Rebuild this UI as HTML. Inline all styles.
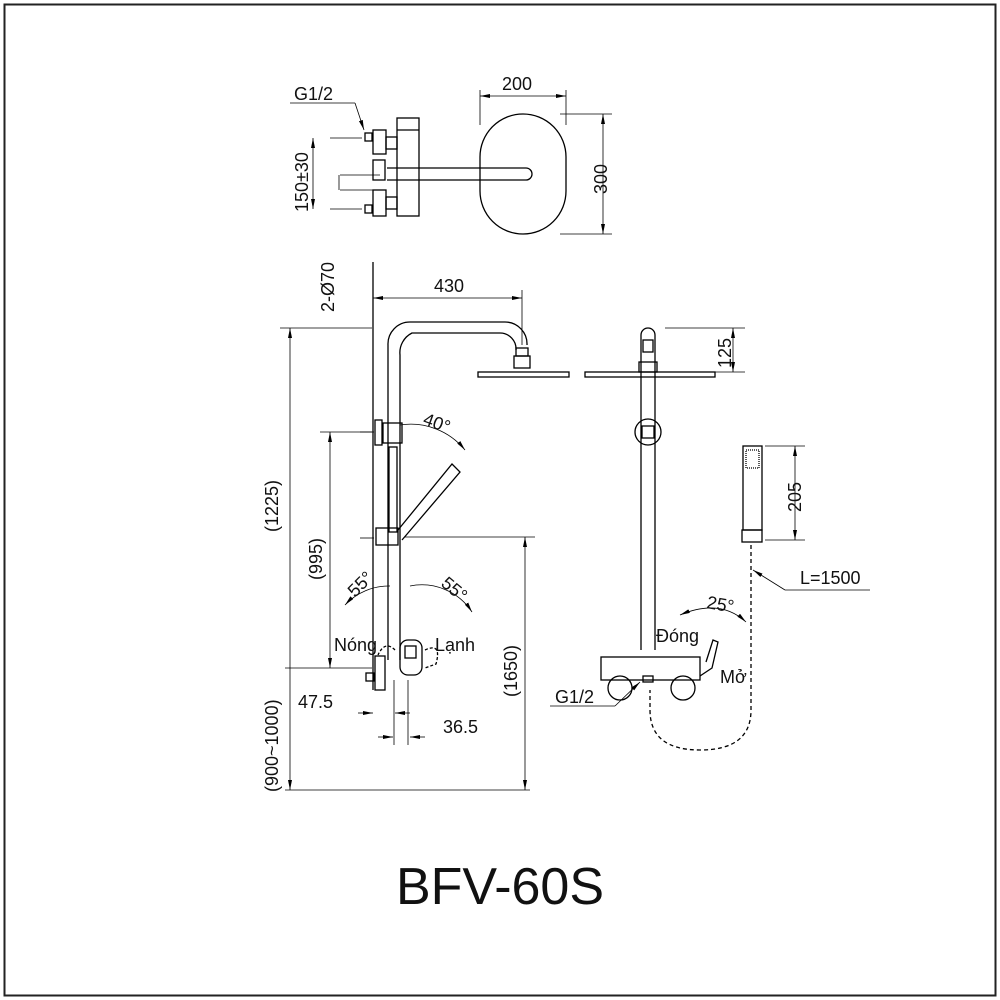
<!DOCTYPE html>
<html><head><meta charset="utf-8"><style>
body{margin:0;background:#fff}
svg{display:block}
text{font-family:"Liberation Sans",sans-serif;fill:#111}
</style></head><body>
<svg width="1000" height="1000" viewBox="0 0 1000 1000" xmlns="http://www.w3.org/2000/svg">
<defs><marker id="a" viewBox="0 0 10 4" refX="10" refY="2" markerWidth="10" markerHeight="4" orient="auto-start-reverse" markerUnits="userSpaceOnUse"><path d="M0,0L10,2L0,4z" fill="#000"/></marker></defs>
<rect x="4.5" y="4.5" width="991" height="991" fill="none" stroke="#222" stroke-width="2"/>
<g fill="none" stroke="#000" stroke-width="1.3">
<rect x="397" y="118" width="22" height="98"/><line x1="397" y1="130" x2="419" y2="130"/>
<rect x="365" y="133" width="7" height="8"/><rect x="373" y="130" width="13" height="24"/><rect x="386" y="137" width="11" height="12"/>
<rect x="373" y="160" width="12" height="20"/><path d="M387,168 H526 A6,6 0 0 1 526,180 H387"/>
<rect x="365" y="205" width="7" height="8"/><rect x="373" y="190" width="13" height="26"/><rect x="386" y="197" width="11" height="12"/>
<rect x="480" y="114" width="86" height="120" rx="43"/>
<g stroke-width="0.8"><line x1="480" y1="90" x2="480" y2="125"/><line x1="566" y1="90" x2="566" y2="125"/><line x1="480" y1="96" x2="566" y2="96" marker-start="url(#a)" marker-end="url(#a)"/>
<line x1="560" y1="114" x2="612" y2="114"/><line x1="560" y1="234" x2="612" y2="234"/><line x1="603" y1="114" x2="603" y2="234" marker-start="url(#a)" marker-end="url(#a)"/>
<line x1="290" y1="103" x2="355" y2="103"/><line x1="355" y1="103" x2="364" y2="130" marker-end="url(#a)"/>
<line x1="330" y1="138" x2="362" y2="138"/><line x1="330" y1="209" x2="362" y2="209"/><line x1="313" y1="138" x2="313" y2="209" marker-start="url(#a)" marker-end="url(#a)"/>
<line x1="340" y1="175" x2="380" y2="175"/><line x1="340" y1="190" x2="380" y2="190"/>
<line x1="339" y1="175" x2="339" y2="190"/>
</g>
<line x1="373" y1="262" x2="373" y2="690"/>
<path d="M388,660 V345 A22,22 0 0 1 410,322 H505 A22,22 0 0 1 527,345"/>
<path d="M400,660 V355 A22,22 0 0 1 412,333 H500 A16,16 0 0 1 516,350"/>
<rect x="516" y="348" width="12" height="8"/><rect x="514" y="356" width="16" height="12"/><rect x="478" y="372" width="91" height="5"/>
<rect x="375" y="420" width="7" height="25"/><rect x="383" y="423" width="19" height="20"/>
<rect x="389" y="447" width="8" height="85"/>
<path d="M398,530 L452,464 L460,472 L402,540"/>
<rect x="376" y="528" width="22" height="17"/>
<rect x="375" y="656" width="10" height="34"/><rect x="366" y="673" width="8" height="8"/>
<rect x="400" y="640" width="22" height="35" rx="8"/><rect x="405" y="646" width="11" height="12"/>
<path d="M395,650 Q385,640 378,655" stroke-dasharray="3,2"/><path d="M425,650 Q442,642 436,664 L425,668" stroke-dasharray="3,2"/>
<g stroke-width="0.8">
<line x1="373" y1="298" x2="522" y2="298" marker-start="url(#a)" marker-end="url(#a)"/><line x1="522" y1="290" x2="522" y2="345"/>
<line x1="280" y1="328" x2="372" y2="328"/><line x1="290" y1="328" x2="290" y2="790" marker-start="url(#a)" marker-end="url(#a)"/>
<line x1="320" y1="432" x2="372" y2="432"/><line x1="330" y1="432" x2="330" y2="668" marker-start="url(#a)" marker-end="url(#a)"/>
<line x1="285" y1="668" x2="372" y2="668"/><line x1="285" y1="790" x2="530" y2="790"/>
<line x1="405" y1="537" x2="535" y2="537"/><line x1="525" y1="537" x2="525" y2="790" marker-start="url(#a)" marker-end="url(#a)"/>
<line x1="360" y1="432" x2="374" y2="432"/><line x1="360" y1="538" x2="374" y2="538"/>
<line x1="358" y1="713" x2="373" y2="713" marker-end="url(#a)"/><line x1="410" y1="713" x2="395" y2="713" marker-end="url(#a)"/>
<line x1="378" y1="737" x2="393" y2="737" marker-end="url(#a)"/><line x1="425" y1="737" x2="410" y2="737" marker-end="url(#a)"/>
<line x1="394" y1="680" x2="394" y2="745"/><line x1="408" y1="680" x2="408" y2="745"/>
<path d="M400,425 A70,70 0 0 1 465,450" marker-end="url(#a)"/>
<path d="M345,605 A60,60 0 0 1 390,586" marker-start="url(#a)"/>
<path d="M410,586 A60,60 0 0 1 472,612" marker-end="url(#a)"/>
</g>
<path d="M641,650 V335 A7,7 0 0 1 655,335 V650"/>
<rect x="643" y="340" width="10" height="12"/><rect x="639" y="362" width="18" height="10"/><rect x="585" y="372" width="130" height="5"/>
<circle cx="648" cy="432" r="13"/><rect x="642" y="426" width="12" height="12"/>
<rect x="601" y="657" width="99" height="23"/><circle cx="620" cy="688" r="12"/><circle cx="683" cy="688" r="12"/><rect x="643" y="676" width="10" height="6"/>
<path d="M706,662 L713,640 L718,642 L712,668 L700,676"/>
<rect x="743" y="446" width="19" height="84"/><rect x="746" y="450" width="13" height="18" stroke-dasharray="1,1"/><rect x="742" y="530" width="20" height="12"/>
<path d="M751,545 V710 Q751,750 700,750 Q650,750 650,710 V690" stroke-dasharray="4,3"/>
<g stroke-width="0.8">
<line x1="665" y1="328" x2="745" y2="328"/><line x1="665" y1="372" x2="745" y2="372"/><line x1="733" y1="328" x2="733" y2="372" marker-start="url(#a)" marker-end="url(#a)"/>
<line x1="765" y1="446" x2="805" y2="446"/><line x1="765" y1="540" x2="805" y2="540"/><line x1="795" y1="446" x2="795" y2="540" marker-start="url(#a)" marker-end="url(#a)"/>
<line x1="870" y1="590" x2="785" y2="590"/><line x1="785" y1="590" x2="753" y2="570" marker-end="url(#a)"/>
<line x1="550" y1="706" x2="615" y2="706"/><line x1="615" y1="706" x2="640" y2="682" marker-end="url(#a)"/>
<path d="M680,615 Q720,598 746,622" marker-start="url(#a)" marker-end="url(#a)"/>
</g>
</g>
<g font-size="18">
<text x="294" y="100">G1/2</text>
<text x="502" y="90">200</text>
<text x="607" y="194" transform="rotate(-90 607 194)">300</text>
<text x="308" y="212" transform="rotate(-90 308 212)">150±30</text>
<text x="334" y="312" transform="rotate(-90 334 312)">2-Ø70</text>
<text x="434" y="292">430</text>
<text x="278" y="532" transform="rotate(-90 278 532)">(1225)</text>
<text x="322" y="580" transform="rotate(-90 322 580)">(995)</text>
<text x="278" y="792" transform="rotate(-90 278 792)">(900~1000)</text>
<text x="517" y="697" transform="rotate(-90 517 697)">(1650)</text>
<text x="422" y="424" transform="rotate(20 422 424)">40°</text>
<text x="355" y="598" transform="rotate(-45 355 598)">55°</text>
<text x="440" y="585" transform="rotate(40 440 585)">55°</text>
<text x="334" y="651">Nóng</text>
<text x="435" y="651">Lạnh</text>
<text x="298" y="708">47.5</text>
<text x="443" y="733">36.5</text>
<text x="731" y="368" transform="rotate(-90 731 368)">125</text>
<text x="801" y="512" transform="rotate(-90 801 512)">205</text>
<text x="800" y="584">L=1500</text>
<text x="706" y="608" transform="rotate(10 706 608)">25°</text>
<text x="656" y="642">Đóng</text>
<text x="720" y="683">Mở</text>
<text x="555" y="703">G1/2</text>
</g>
<text x="500" y="904" font-size="52" text-anchor="middle">BFV-60S</text>
</svg>
</body></html>
